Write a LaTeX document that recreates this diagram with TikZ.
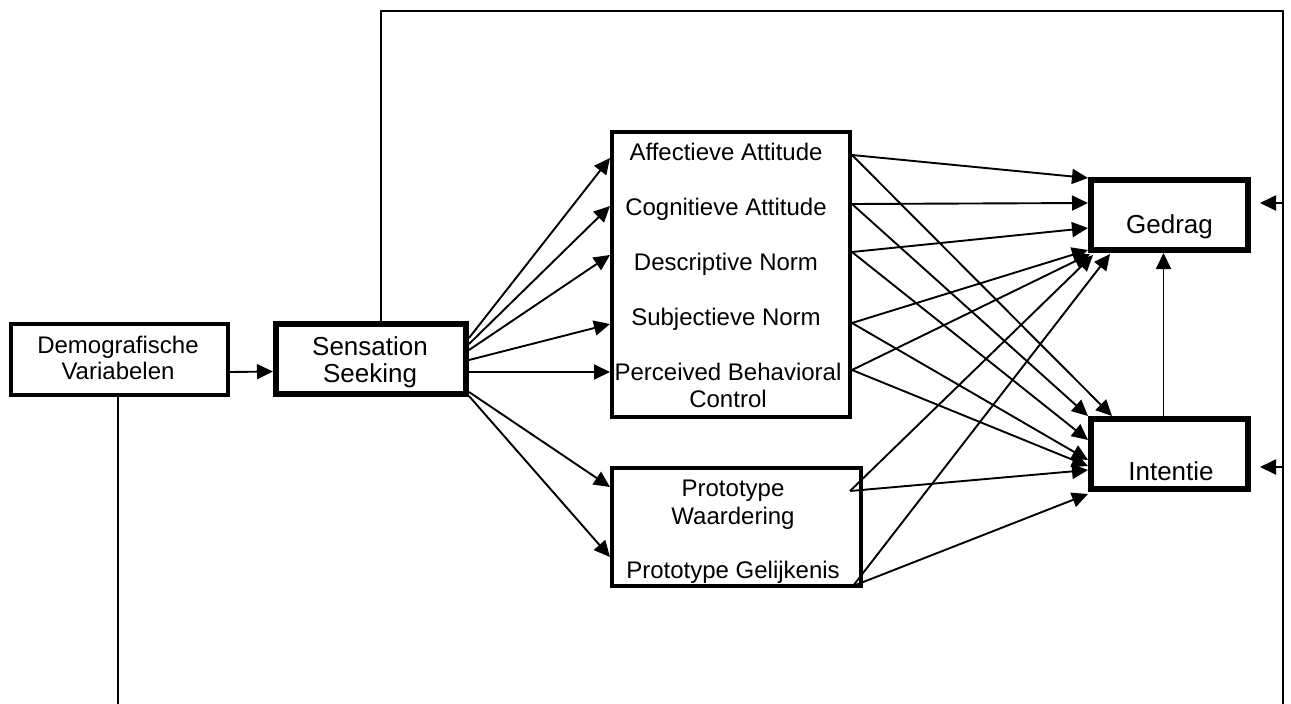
\documentclass[tikz,border=0pt]{standalone}
\usepackage{fontspec}
\setmainfont{Liberation Sans}
\usetikzlibrary{arrows.meta,calc}
\newcommand{\mytwoline}[2]{\begin{tabular}[t]{@{}c@{}}#1\\#2\end{tabular}}
\begin{document}
\begin{tikzpicture}[x=1pt,y=-1pt,
  box/.style={draw=black, rectangle, inner sep=0pt},
  thinbox/.style={box, line width=4pt},
  thickbox/.style={box, line width=6pt},
  lbl/.style={inner sep=0pt, anchor=base, font=\fontsize{24}{27}\selectfont},
  biglbl/.style={lbl, font=\fontsize{26}{27}\selectfont},
  arr/.style={line width=1.9pt, -{Triangle[length=16pt,width=15pt]}},
  frameline/.style={line width=2.2pt},
]
\useasboundingbox (0,0) rectangle (1291,704);

% boxes
\node[thinbox, minimum width=217pt, minimum height=71pt] (demo) at (119.5,359.5) {};
\node[lbl, font=\fontsize{24}{26}\selectfont] (demotxt) at (118,353) {\mytwoline{Demografische}{Variabelen}};

\node[thickbox, minimum width=190pt, minimum height=70pt] (ss) at (371,359) {};
\node[biglbl] (sstxt) at (370,355) {\mytwoline{Sensation}{Seeking}};

\node[thinbox, minimum width=238pt, minimum height=285pt] (att) at (731,274.5) {};
\node[lbl] (aa) at (726,160) {Affectieve Attitude};
\node[lbl] (ca) at (726,215) {Cognitieve Attitude};
\node[lbl] (dn) at (726,270) {Descriptive Norm};
\node[lbl] (sn) at (726,325) {Subjectieve Norm};
\node[lbl] (pbc) at (728,380) {\mytwoline{Perceived Behavioral}{Control}};

\node[thinbox, minimum width=249pt, minimum height=118pt] (proto) at (736.5,527) {};
\node[lbl, font=\fontsize{24}{28}\selectfont] (pw) at (733,496) {\mytwoline{Prototype}{Waardering}};
\node[lbl] (pg) at (733,578) {Prototype Gelijkenis};

\node[thickbox, minimum width=157pt, minimum height=70pt] (ged) at (1169.5,215) {};
\node[biglbl] (gedtxt) at (1169.5,233) {Gedrag};
\node[thickbox, minimum width=157pt, minimum height=70pt] (int) at (1169.5,454) {};
\node[biglbl] (inttxt) at (1171,480) {Intentie};

% frame
\coordinate (frTR) at (1283,11);
\coordinate (frBR) at (1283,704);
\coordinate (demoBot) at (118,704);
\draw[frameline] ($(ss.north)+(10,0)$) |- (frTR) -- (frBR);
\draw[frameline] (demo.south -| demoBot) -- (demoBot);
\draw[arr] ($(frTR |- ged.east)+(0,-12)$) -- ($(ged.east)+(9,-12)$);
\draw[arr] ($(frTR |- int.east)+(0,13)$) -- ($(int.east)+(9,13)$);

% demo -> ss
\draw[arr] ($(demo.east)+(0,12.5)$) -- ($(ss.west)+(0,12.5)$);

% ss -> attitudes
\draw[arr] ($(ss.north east)+(0,17)$) -- ($(att.north west)+(0,28)$);
\draw[arr] ($(ss.north east)+(0,23)$) -- ($(att.north west)+(0,76)$);
\draw[arr] ($(ss.north east)+(0,29)$) -- ($(att.north west)+(0,125)$);
\draw[arr] ($(ss.north east)+(0,39)$) -- ($(att.north west)+(0,194)$);
\draw[arr] ($(ss.north east)+(0,51)$) -- ($(att.north west)+(0,242)$);
\draw[arr] ($(ss.north east)+(0,71)$) -- ($(proto.north west)+(0,21)$);
\draw[arr] ($(ss.north east)+(0,75)$) -- ($(proto.north west)+(0,91)$);

% attitudes -> gedrag / intentie
\coordinate (oA) at ($(att.north east)+(0,25)$);
\coordinate (oC) at ($(att.north east)+(0,74)$);
\coordinate (oD) at ($(att.north east)+(0,122)$);
\coordinate (oS) at ($(att.north east)+(0,193)$);
\coordinate (oP) at ($(att.north east)+(0,240)$);
\coordinate (oW) at ($(proto.north east)+(-13,25)$);
\coordinate (oG) at ($(proto.south east)+(-10,-2)$);

\draw[arr] (oA) -- ($(ged.north west)+(0,1)$);
\draw[arr] (oA) -- ($(int.north west)+(24,0)$);
\draw[arr] (oC) -- ($(ged.north west)+(0,26)$);
\draw[arr] (oC) -- (int.north west);
\draw[arr] (oD) -- ($(ged.north west)+(0,51)$);
\draw[arr] (oD) -- ($(int.north west)+(0,24)$);
\draw[arr] (oS) -- ($(ged.south west)+(0,-3)$);
\draw[arr] (oS) -- ($(int.north west)+(0,44)$);
\draw[arr] (oP) -- ($(ged.south west)+(2,1)$);
\draw[arr] (oP) -- ($(int.north west)+(0,50)$);
\draw[arr] (oW) -- ($(ged.south west)+(5,2)$);
\draw[arr] (oW) -- ($(int.north west)+(0,54)$);
\draw[arr] (oG) -- ($(ged.south west)+(22,1)$);
\draw[arr] (oG) -- ($(int.south west)+(0,2)$);

% intentie -> gedrag
\draw[arr] ($(int.north)+(-6,0)$) -- ($(ged.south)+(-6,0)$);
\end{tikzpicture}
\end{document}
